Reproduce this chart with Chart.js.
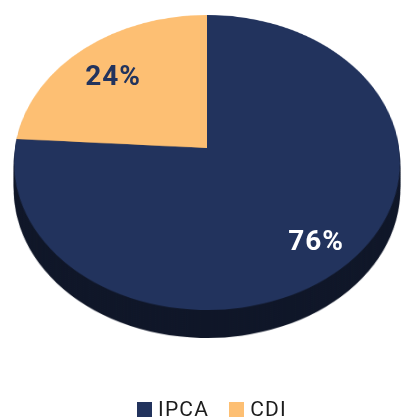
<!DOCTYPE html>
<html>
<head>
<meta charset="utf-8">
<script src="https://cdn.jsdelivr.net/npm/chart.js@4.4.1/dist/chart.umd.min.js"></script>
<style>
  html, body { margin: 0; padding: 0; background: #ffffff; width: 401px; height: 418px; overflow: hidden; }
  .layer {
    position: absolute; left: 0; top: 0; width: 401px; height: 418px;
    perspective: 1267px; perspective-origin: 207px 148px;
  }
  .disc {
    position: absolute; left: 15px; top: -44px; width: 384px; height: 384px;
    transform: rotateX(40.45deg);
  }
  .value-label {
    position: absolute; transform: translate(-50%, -50%);
    font-family: Roboto, "Noto Sans", sans-serif; font-weight: 700; font-size: 28px;
    letter-spacing: 1px; line-height: 28px; white-space: nowrap;
  }
  #legend {
    position: absolute; left: 137px; top: 397px; display: flex; align-items: center;
    font-family: Roboto, "Noto Sans", sans-serif; font-size: 21px; color: #1c1c1c; letter-spacing: 1.2px;
  }
  .legend-item { display: flex; align-items: center; margin-right: 20px; }
  .legend-box { width: 15px; height: 15px; margin-right: 6px; }
</style>
</head>
<body>
<div id="stage"></div>
<div id="legend"></div>
<script>
// Portfolio split by index
const categories = ['IPCA', 'CDI'];
const shares = [76, 24];

// Colours of the top face, the extruded side and the value labels
const faceColors = ['#22335d', '#fdbf73'];
const sideColors = ['#0f1628', '#9c7442'];
const labelColors = ['#ffffff', '#22335d'];

// Disc geometry (must agree with the CSS above)
const TILT = 40.45 * Math.PI / 180;
const DIST = 1267;
const APEX = { x: 207, y: 148 };
const SIDE_DEPTH = 28;
const SIDE_STEP = 2;
const LABEL_RADIUS = 0.77;
const LABEL_SHIFT = { x: 2, y: 6 };

const stage = document.getElementById('stage');

function makePie(colors, offsetY) {
  const layer = document.createElement('div');
  layer.className = 'layer';
  layer.style.top = offsetY + 'px';
  const disc = document.createElement('div');
  disc.className = 'disc';
  const canvas = document.createElement('canvas');
  canvas.width = 384;
  canvas.height = 384;
  disc.appendChild(canvas);
  layer.appendChild(disc);
  stage.appendChild(layer);
  return new Chart(canvas, {
    type: 'pie',
    data: {
      labels: categories,
      datasets: [{ data: shares, backgroundColor: colors, borderWidth: 0, hoverOffset: 0 }]
    },
    options: {
      responsive: false,
      animation: false,
      events: [],
      layout: { padding: 0 },
      plugins: { legend: { display: false }, tooltip: { enabled: false } }
    }
  });
}

// Extruded side: darker copies stacked below the face, deepest first
for (let d = SIDE_DEPTH; d > 0; d -= SIDE_STEP) makePie(sideColors, d);
const chart = makePie(faceColors, 0);

// Map a point of the tilted disc plane onto the page
function project(px, py) {
  const z = py * Math.sin(TILT);
  const f = DIST / (DIST - z);
  return { x: APEX.x + px * f, y: APEX.y + py * Math.cos(TILT) * f };
}

const meta = chart.getDatasetMeta(0);
meta.data.forEach((arc, i) => {
  const p = arc.getProps(['startAngle', 'endAngle', 'outerRadius'], true);
  const mid = (p.startAngle + p.endAngle) / 2;
  const r = p.outerRadius * LABEL_RADIUS;
  const pt = project(Math.cos(mid) * r, Math.sin(mid) * r);
  const el = document.createElement('div');
  el.className = 'value-label';
  el.textContent = shares[i] + '%';
  el.style.color = labelColors[i];
  el.style.left = (pt.x + LABEL_SHIFT.x) + 'px';
  el.style.top = (pt.y + LABEL_SHIFT.y) + 'px';
  stage.appendChild(el);
});

// Legend
const legend = document.getElementById('legend');
categories.forEach((name, i) => {
  const item = document.createElement('div');
  item.className = 'legend-item';
  const box = document.createElement('span');
  box.className = 'legend-box';
  box.style.background = faceColors[i];
  const txt = document.createElement('span');
  txt.textContent = name;
  item.appendChild(box);
  item.appendChild(txt);
  legend.appendChild(item);
});
</script>
</body>
</html>
